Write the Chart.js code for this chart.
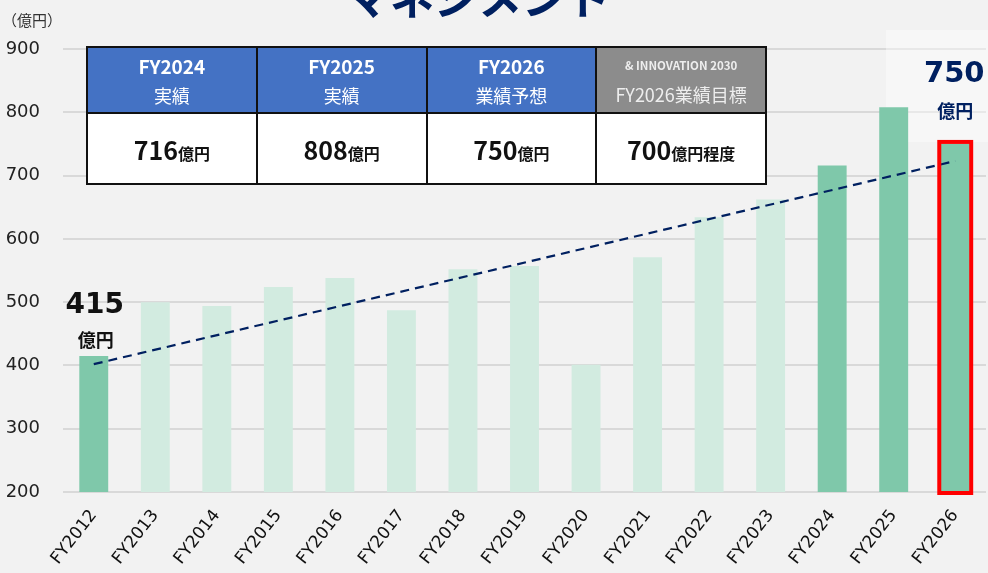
<!DOCTYPE html>
<html lang="ja">
<head>
<meta charset="utf-8">
<script src="https://cdn.jsdelivr.net/npm/chart.js@4.4.1/dist/chart.umd.min.js"></script>
<style>
  html, body { margin: 0; padding: 0; background: #f2f2f2; overflow: hidden; }
  #wrap { position: relative; width: 988px; height: 573px; overflow: hidden; }
  #chart { position: absolute; left: 0; top: 0; }
  #title {
    position: absolute; left: 340px; top: -36px; width: 270px; text-align: right;
    font: bold 44px "Noto Sans CJK JP", sans-serif; color: #002060; white-space: nowrap;
  }
  #unit { position: absolute; left: 2px; top: 9px; font: 15px "Noto Sans CJK JP", sans-serif; color: #333; }
  #summary {
    position: absolute; left: 86px; top: 46px; width: 681px; height: 139px;
    border-collapse: collapse; table-layout: fixed; font-family: "Noto Sans CJK JP", sans-serif;
  }
  #summary td { border: 2px solid #111; text-align: center; padding: 0; }
  #summary tr.head td { background: #4472c4; color: #fff; height: 64px; line-height: 1.6; }
  #summary tr.head td.goal { background: #8c8c8c; color: #eee; }
  #summary .fy { font-weight: bold; font-size: 19px; }
  #summary .sub { font-size: 18px; }
  #summary .tag { font-weight: bold; font-size: 11.5px; line-height: 2.4; }
  #summary tr.val td { background: #fff; height: 68px; font-weight: bold; color: #111; }
  #summary .num { font-size: 25px; }
  #summary .yen { font-size: 16px; }
</style>
</head>
<body>
<div id="wrap">
  <canvas id="chart" width="988" height="573"></canvas>
  <div id="title">マネジメント</div>
  <div id="unit">（億円）</div>
  <table id="summary">
    <tr class="head">
      <td><div class="fy">FY2024</div><div class="sub">実績</div></td>
      <td><div class="fy">FY2025</div><div class="sub">実績</div></td>
      <td><div class="fy">FY2026</div><div class="sub">業績予想</div></td>
      <td class="goal"><div class="tag">&amp; INNOVATION 2030</div><div class="sub">FY2026業績目標</div></td>
    </tr>
    <tr class="val">
      <td><span class="num">716</span><span class="yen">億円</span></td>
      <td><span class="num">808</span><span class="yen">億円</span></td>
      <td><span class="num">750</span><span class="yen">億円</span></td>
      <td><span class="num">700</span><span class="yen">億円程度</span></td>
    </tr>
  </table>
</div>
<script>
const categories = ["FY2012", "FY2013", "FY2014", "FY2015", "FY2016", "FY2017", "FY2018", "FY2019",
  "FY2020", "FY2021", "FY2022", "FY2023", "FY2024", "FY2025", "FY2026"];
const sales = [415, 500, 494, 524, 538, 487, 552, 557, 401, 571, 634, 662, 716, 808, 750];
const highlighted = ["FY2012", "FY2024", "FY2025", "FY2026"];
const trend = [402, null, null, null, null, null, null, null, null, null, null, null, null, null, 723];
const yTicks = [200, 300, 400, 500, 600, 700, 800, 900];

const DARK = "#7fc8aa";
const LIGHT = "#d2ebe0";
const NAVY = "#002060";

// light panel behind the 750 callout, sits under the bars
const calloutPanel = {
  id: "calloutPanel",
  beforeDatasetsDraw(chart) {
    const ctx = chart.ctx;
    ctx.save();
    ctx.fillStyle = "rgba(255,255,255,0.4)";
    ctx.fillRect(886, 30, 102, 112);
    ctx.restore();
  },
};

// red frame on FY2026 bar and the value callouts
const callouts = {
  id: "callouts",
  afterDatasetsDraw(chart) {
    const ctx = chart.ctx;
    const bars = chart.getDatasetMeta(0).data;
    const last = bars[bars.length - 1];
    const first = bars[0];
    const bottom = chart.scales.y.getPixelForValue(yTicks[0]);
    ctx.save();
    ctx.strokeStyle = "#ff0000";
    ctx.lineWidth = 4;
    ctx.strokeRect(last.x - last.width / 2 - 1.5, last.y - 2, last.width + 3, bottom - last.y + 3);

    ctx.textAlign = "center";
    ctx.textBaseline = "alphabetic";
    ctx.fillStyle = "#111";
    ctx.font = "bold 28px 'DejaVu Sans'";
    ctx.fillText(String(sales[0]), first.x + 1, first.y - 43);
    ctx.font = "bold 18px 'Noto Sans CJK JP'";
    ctx.fillText("億円", first.x + 2, first.y - 9);

    ctx.fillStyle = NAVY;
    ctx.font = "bold 29px 'DejaVu Sans'";
    ctx.fillText(String(sales[sales.length - 1]), last.x - 1, last.y - 62);
    ctx.font = "bold 18px 'Noto Sans CJK JP'";
    ctx.fillText("億円", last.x, last.y - 26);
    ctx.restore();
  },
};

new Chart(document.getElementById("chart"), {
  data: {
    labels: categories,
    datasets: [
      {
        type: "bar",
        label: "売上",
        data: sales,
        backgroundColor: categories.map((c) => (highlighted.includes(c) ? DARK : LIGHT)),
        barPercentage: 0.47,
        categoryPercentage: 1,
        order: 1,
      },
      {
        type: "line",
        label: "トレンド",
        data: trend,
        spanGaps: true,
        borderColor: NAVY,
        borderWidth: 2.2,
        borderDash: [9, 6],
        pointRadius: 0,
        order: 0,
      },
    ],
  },
  options: {
    responsive: false,
    animation: false,
    layout: { padding: { top: 49, right: 2, left: 0, bottom: 0 } },
    plugins: { legend: { display: false }, tooltip: { enabled: false } },
    scales: {
      x: {
        grid: { display: false },
        border: { display: false },
        afterFit: (scale) => { scale.height = 81; },
        ticks: {
          color: "#111",
          font: { family: "DejaVu Sans", size: 17 },
          minRotation: 52,
          maxRotation: 52,
          padding: 6,
        },
      },
      y: {
        min: yTicks[0],
        max: yTicks[yTicks.length - 1],
        afterBuildTicks: (scale) => { scale.ticks = yTicks.map((v) => ({ value: v })); },
        afterFit: (scale) => { scale.width = 63; },
        grid: { color: "#d9d9d9", lineWidth: 2, drawTicks: false },
        border: { display: false },
        ticks: {
          color: "#222",
          font: { family: "DejaVu Sans", size: 18 },
          padding: 23,
        },
      },
    },
  },
  plugins: [calloutPanel, callouts],
});
</script>
</body>
</html>
